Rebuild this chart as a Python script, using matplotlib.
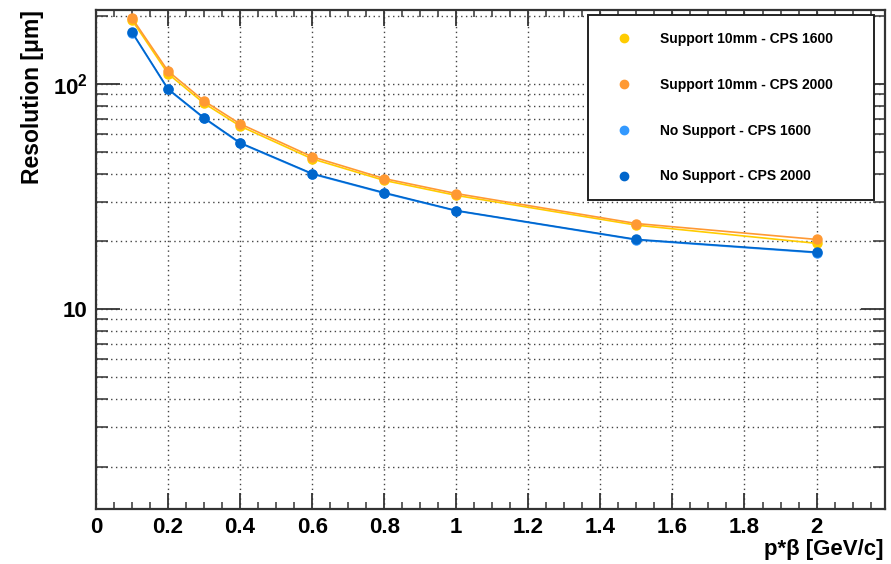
import numpy as np
import matplotlib
matplotlib.use("Agg")
import matplotlib.pyplot as plt
from matplotlib.ticker import FixedLocator, MultipleLocator, NullFormatter
from matplotlib.lines import Line2D

plt.rcParams["font.family"] = ["Liberation Sans", "DejaVu Sans"]
plt.rcParams["font.weight"] = "bold"
plt.rcParams["mathtext.fontset"] = "custom"
plt.rcParams["mathtext.rm"] = "Liberation Sans:bold"
plt.rcParams["mathtext.bf"] = "Liberation Sans:bold"

# p*beta [GeV/c]
pbeta = [0.1, 0.2, 0.3, 0.4, 0.6, 0.8, 1.0, 1.5, 2.0]

# resolution [um]
sup_1600 = [192, 111, 82, 65, 46.5, 37.3, 32.0, 23.6, 19.6]
sup_2000 = [196, 114, 84, 66.5, 47.5, 38.0, 32.6, 24.0, 20.4]
nosup_1600 = [169, 94.5, 70.3, 54.5, 39.8, 32.7, 27.3, 20.3, 17.8]
nosup_2000 = [170, 95, 70.7, 54.8, 40.0, 32.9, 27.4, 20.4, 17.9]

labels = ["Support 10mm - CPS 1600", "Support 10mm - CPS 2000",
          "No Support - CPS 1600", "No Support - CPS 2000"]
colors = ["#FFCC00", "#FF9933", "#3399FF", "#0066CC"]
series = [sup_1600, sup_2000, nosup_1600, nosup_2000]

fig = plt.figure(figsize=(8.91, 5.64), dpi=100, facecolor="white")
ax = fig.add_axes([96 / 891, 1 - 509 / 564, (885 - 96) / 891, (509 - 10) / 564])

for vals, col in zip(series, colors):
    ax.plot(pbeta, vals, color=col, lw=1.2, marker="o", ms=6.5,
            mec=col, mfc=col, zorder=3)

ax.set_yscale("log")
ax.set_xlim(0, 2.19)
ax.set_ylim(1.296, 213)

# ticks
ax.xaxis.set_minor_locator(MultipleLocator(0.05))
xt = np.arange(0, 2.01, 0.2)
ax.set_xticks(xt)
ax.set_xticklabels(["0" if v == 0 else ("%g" % round(v, 1)) for v in xt])

ax.yaxis.set_major_locator(FixedLocator([10, 100]))
minors = [m * d for d in (1, 10, 100) for m in range(2, 10)]
ax.yaxis.set_minor_locator(FixedLocator(minors))
ax.yaxis.set_minor_formatter(NullFormatter())
ax.set_yticklabels(["10", r"$10^{2}$"])

ax.tick_params(which="both", direction="in", top=True, right=True,
               colors="#333333", labelcolor="black", labelsize=16)
ax.tick_params(axis="x", which="major", length=11.5, width=1.3, pad=6)
ax.tick_params(axis="x", which="minor", length=5, width=1.1)
ax.tick_params(axis="y", which="major", length=17, width=1.3, pad=6)
ax.tick_params(axis="y", which="minor", length=8.5, width=1.1)

for s in ax.spines.values():
    s.set_linewidth(1.6)
    s.set_color("#333333")

# dotted grid
ax.grid(True, which="major", axis="both", color="#444444",
        linestyle=(0, (1, 2.5)), lw=1.0)
ax.grid(True, which="minor", axis="y", color="#444444",
        linestyle=(0, (1, 2.5)), lw=1.0)
ax.set_axisbelow(True)

fig.text(33 / 891, 1 - 10 / 564, "Resolution [\u03bcm]", rotation=90,
         ha="center", va="top", fontsize=16.5, fontweight="bold")
fig.text(884 / 891, 1 - 549 / 564, "p*\u03b2 [GeV/c]", ha="right",
         va="center", fontsize=16, fontweight="bold")

handles = [Line2D([], [], ls="none", marker="o", ms=6, color=c) for c in colors]
leg = ax.legend(handles, labels, loc="upper left",
                bbox_to_anchor=(588 / 891, 1 - 15 / 564, (874 - 588) / 891, 0),
                bbox_transform=fig.transFigure, mode="expand",
                borderaxespad=0, borderpad=1.2, labelspacing=2.3,
                handlelength=2.8, handletextpad=1.15,
                fancybox=False, framealpha=1, edgecolor="#222222",
                prop={"size": 10, "weight": "bold"})
leg.get_frame().set_linewidth(1.4)

fig.savefig("out.png", dpi=100, facecolor="white")
